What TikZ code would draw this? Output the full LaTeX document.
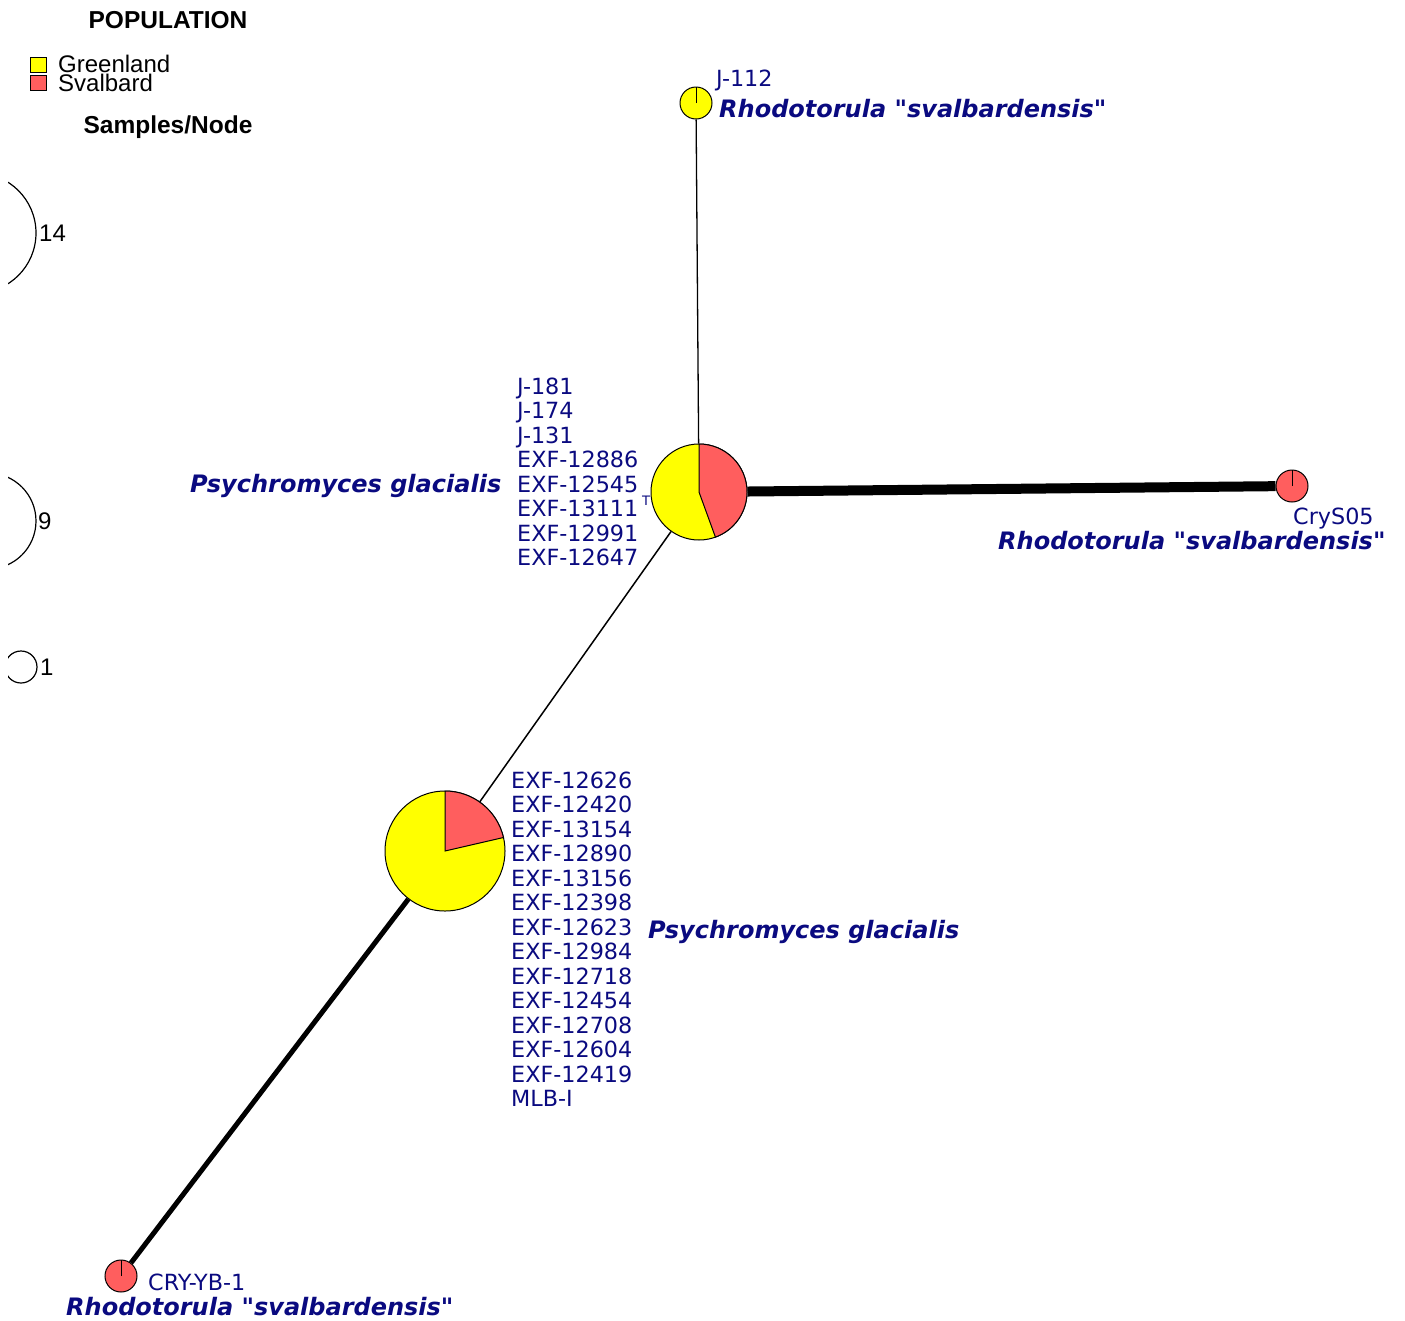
\documentclass[tikz,border=0pt]{standalone}
\usepackage{fontspec}
\usepackage{xcolor}
\usepackage{tikz}
\usetikzlibrary{positioning}

\newfontfamily\labfont{DejaVu Sans}
\newfontfamily\legfont{Liberation Sans}
\definecolor{labblue}{RGB}{10,10,128}
\definecolor{greenl}{RGB}{255,255,0}
\definecolor{svalred}{RGB}{255,94,94}
\newcommand{\svalb}{Rhodotorula {\upshape"}svalbardensis{\upshape"}}

\begin{document}
\begin{tikzpicture}[
  x=1pt, y=1pt,
  hap/.style={circle, draw, line width=1pt, inner sep=0pt},
  strain/.style={font=\labfont\fontsize{22.3}{24.5}\selectfont, text=labblue, inner sep=0pt, align=left},
  species/.style={font=\labfont\bfseries\itshape\fontsize{24}{28}\selectfont, text=labblue, inner sep=0pt},
  legtext/.style={font=\legfont\fontsize{24}{28}\selectfont, inner sep=0pt},
  leghead/.style={font=\legfont\bfseries\fontsize{24.5}{28}\selectfont, inner sep=0pt},
  legbox/.style={rectangle, draw, line width=0.8pt, minimum width=16pt, minimum height=15pt, inner sep=0pt},
  sizering/.style={circle, draw, line width=1.2pt, inner sep=0pt}
]
\useasboundingbox (0,0) rectangle (1405,-1320);

% Legend
\node[leghead, anchor=base] (pophead) at (168,-28) {POPULATION};
\node[legbox, fill=greenl] (kgreen) at (38.5,-64.5) {};
\node[legbox, fill=svalred] (kred) at (38.5,-82.5) {};
\node[legtext, anchor=base west] (tgreen) at (58,-72) {Greenland};
\node[legtext, anchor=base west] (tred) at (58,-91) {Svalbard};
\node[leghead, anchor=base] (sizehead) at (168,-133) {Samples/Node};

% Node sizes
\begin{scope}
  \clip (8,-150) rectangle (120,-700);
  \node[sizering, minimum size=120pt] (s14) at (-24,-233) {};
  \node[sizering, minimum size=96pt] (s9) at (-12,-521) {};
  \node[sizering, minimum size=32pt] (s1) at (21,-667) {};
\end{scope}
\node[legtext, anchor=base west] at (39,-241) {14};
\node[legtext, anchor=base west] at (38,-529) {9};
\node[legtext, anchor=base west] at (40,-675) {1};

% Haplotypes
\node[hap, fill=greenl, minimum size=96pt] (hmid) at (699,-492) {};
\node[hap, fill=greenl, minimum size=120pt] (hlow) at (445,-851) {};
\node[hap, fill=greenl, minimum size=32pt] (htop) at (696,-103) {};
\node[hap, fill=svalred, minimum size=32pt] (hright) at (1292,-486) {};
\node[hap, fill=svalred, minimum size=32pt] (hbot) at (121,-1276) {};

% Mutational steps
\draw[line width=1.3pt] (htop) -- (hmid);
\draw[line width=1.5pt] (hmid) -- (hlow);
\draw[line width=10pt] (hmid) -- (hright);
\draw[line width=5pt] (hlow) -- (hbot);

% Pie slices
\filldraw[fill=svalred, line width=1pt] (hmid.center) -- ++(90:48) arc[start angle=90, end angle=-70, radius=48] -- cycle;
\filldraw[fill=svalred, line width=1pt] (hlow.center) -- ++(90:60) arc[start angle=90, end angle=13, radius=60] -- cycle;
\draw[line width=1pt] (htop.center) -- ++(0,16);
\draw[line width=1pt] (hright.center) -- ++(0,16);
\draw[line width=1pt] (hbot.center) -- ++(0,16);

% Labels
\node[strain, anchor=base west] (ltop) at (716,-86) {J-112};
\node[species, anchor=base west] (sptop) at (719,-117) {\svalb};

\node[strain, anchor=west] (lmid) at (517,-472) {J-181\\J-174\\J-131\\EXF-12886\\EXF-12545\\EXF-13111\,\raisebox{11pt}{\fontsize{13}{13}\selectfont T}\\EXF-12991\\EXF-12647};
\node[species, anchor=base west] (spmid) at (190,-492) {Psychromyces glacialis};

\node[strain, anchor=base west] (lright) at (1293,-524) {CryS05};
\node[species, anchor=base west] (spright) at (998,-549) {\svalb};

\node[strain, anchor=west] (llow) at (511,-939) {EXF-12626\\EXF-12420\\EXF-13154\\EXF-12890\\EXF-13156\\EXF-12398\\EXF-12623\\EXF-12984\\EXF-12718\\EXF-12454\\EXF-12708\\EXF-12604\\EXF-12419\\MLB-I};
\node[species, anchor=base west] (splow) at (648,-938) {Psychromyces glacialis};

\node[strain, anchor=base west] (lbot) at (148,-1290) {CRY-YB-1};
\node[species, anchor=base west] (spbot) at (66,-1315) {\svalb};

\end{tikzpicture}
\end{document}
